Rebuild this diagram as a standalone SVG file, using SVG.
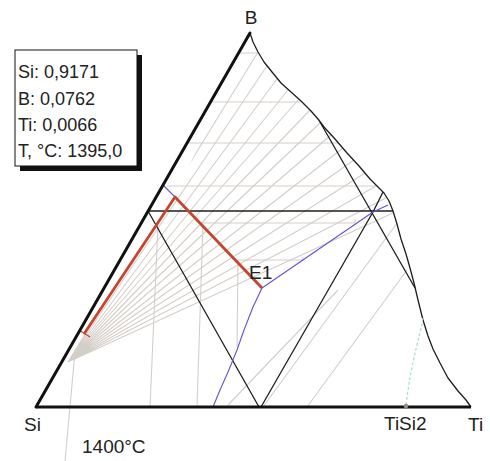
<svg xmlns="http://www.w3.org/2000/svg" width="490" height="461" viewBox="0 0 490 461">
<style>
.t{font-family:"Liberation Sans",Arial,sans-serif;fill:#222}
.g{fill:none;stroke:#d4cec9;stroke-width:1.1}
.k{fill:none;stroke:#1e1e1e;stroke-width:1.3;stroke-linejoin:round}
.b{fill:none;stroke:#6a4fcf;stroke-width:1.1;stroke-linejoin:round}
.r{fill:none;stroke:#c2472e;stroke-width:2.8;stroke-linejoin:round}
</style>
<defs>
<clipPath id="fanclip">
<polygon points="36,407 64,358 85,333 175,197 250,33 253,42 258,52 264,62 272,72 281,83 291,92 301,101 311,111 318,119 324,127 335,139 347,153 359,166 370,179 379,188 384,193 389,201 393,211 397,224 401,239 406,254 410,268 414,283 418,300 423,320 428,336 433,349 440,363 448,378 458,391 466,400 471,407"/>
</clipPath>
</defs>
<rect width="490" height="461" fill="#fff"/>

<g id="info-box">
<rect x="20" y="55" width="122" height="116" fill="#111"/>
<rect x="15" y="50" width="122" height="116" fill="#fff" stroke="#111" stroke-width="1"/>
<text class="t" x="18" y="78" font-size="18">Si: 0,9171</text>
<text class="t" x="18" y="105" font-size="18">B: 0,0762</text>
<text class="t" x="18" y="131" font-size="18">Ti: 0,0066</text>
<text class="t" x="18" y="157" font-size="18">T, °C: 1395,0</text>
</g>

<g id="tie-lines">
<g clip-path="url(#fanclip)">
<path class="g" d="M68,362L258,52M68,362L267,66M68,362L277,79M68,362L288,90M68,362L299,99M68,362L310,110M68,362L320,123M68,362L331,135M68,362L343,148M68,362L354,160M68,362L365,173M68,362L376,186M68,362L386,198M68,362L393,213"/>
</g>
<path class="g" d="M239,53H258M211,102H301M187,143H338M167,186H378M203,223H355V219M238,260H303V257"/>
<path class="g" d="M158,224L150,407M203,223L197,407M238,260L237,347M75,352L65,461"/>
<path class="g" d="M263,407L397,223M307,407L407,270M228,405L338,290"/>
</g>

<g id="connectors">
<path class="k" d="M250,33L253,42L258,52L264,62L272,72L281,83L291,92L301,101L311,111L318,119L324,127L335,139L347,153L359,166L370,179L379,188L384,193L389,201L393,211L397,224L401,239L406,254L410,268L414,283L418,300L423,320L428,336L433,349L440,363L448,378L458,391L466,400L471,407"/>
<path class="k" d="M320,122L415,288M383,192L373,212"/>
<path class="k" d="M148,211L259,407M373,212L261,407"/>
<path class="k" d="M148,211H393" stroke-width="1.5"/>
<path class="b" d="M388,205L373,212L262,288L253,307L244,330L237,350L228,372L220,390L213,407M163,185L175,197"/>
<path class="r" d="M84,334L175,197L262,288"/>
<path d="M79,330L90,337" stroke="#c2472e" stroke-width="1.3"/>
<path d="M406,405Q410,372 417,345T422,318" fill="none" stroke="#a9dfc8" stroke-width="1.2" stroke-dasharray="3,2"/>
<path d="M36,407L250,33" stroke="#111" stroke-width="3" stroke-linecap="round"/>
<path d="M36,407H471" stroke="#111" stroke-width="3"/>
</g>

<g id="node-TiSi2">
<circle cx="406" cy="406" r="2.3" fill="#9a8a80"/>
<text class="t" x="384" y="430" font-size="19">TiSi2</text>
</g>
<g id="node-B"><text class="t" x="251" y="24" font-size="19" text-anchor="middle">B</text></g>
<g id="node-Si"><text class="t" x="24" y="431" font-size="19">Si</text></g>
<g id="node-Ti"><text class="t" x="468" y="431" font-size="19">Ti</text></g>
<g id="node-E1"><text class="t" x="249" y="279" font-size="19">E1</text></g>
<g id="label-1400"><text class="t" x="82" y="453" font-size="19">1400°C</text></g>
</svg>
